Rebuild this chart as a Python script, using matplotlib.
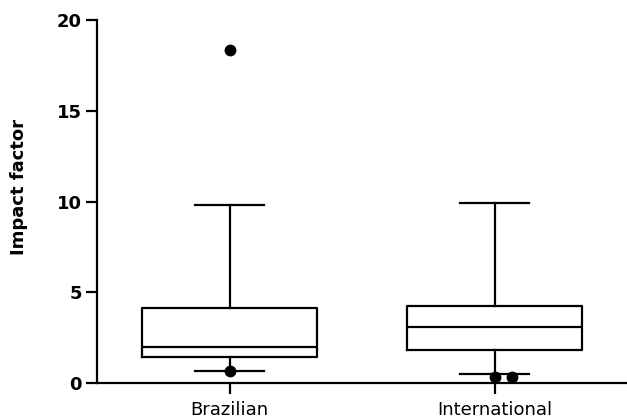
import matplotlib
matplotlib.use("Agg")
import matplotlib.pyplot as plt

# 数据
groups = ["Brazilian", "International"]
medians = [1.98, 3.08]
q1s = [1.43, 1.82]
q3s = [4.13, 4.24]
whis_low = [0.66, 0.51]
whis_high = [9.8, 9.9]
fliers = [[18.35, 0.66], [0.35, 0.35]]
yticks = [0, 5, 10, 15, 20]

plt.rcParams["font.family"] = ["DejaVu Sans"]

fig = plt.figure(figsize=(6.27, 4.2), dpi=100)
ax = fig.add_axes([0.155, 0.088, 0.845, 0.864])

stats = []
for i, name in enumerate(groups):
    stats.append(
        {
            "label": name,
            "med": medians[i],
            "q1": q1s[i],
            "q3": q3s[i],
            "whislo": whis_low[i],
            "whishi": whis_high[i],
            "fliers": [],
        }
    )

lw = 1.6
positions = list(range(1, len(groups) + 1))
ax.bxp(
    stats,
    positions=positions,
    widths=0.66,
    showfliers=False,
    boxprops=dict(color="black", linewidth=lw),
    medianprops=dict(color="black", linewidth=lw),
    whiskerprops=dict(color="black", linewidth=lw),
    capprops=dict(color="black", linewidth=lw),
    capwidths=0.26,
)

# 离群点：相同值横向错开
for pos, vals in zip(positions, fliers):
    seen = {}
    for v in vals:
        k = seen.get(v, 0)
        seen[v] = k + 1
        ax.plot(pos + k * 0.065, v, "o", color="black", markersize=7.5, zorder=5,
                clip_on=False)

ax.set_xlim(0.5, 2.5)
ax.set_ylim(0, 20)
ax.set_yticks(yticks)
ax.set_xticks(positions)
ax.set_xticklabels(groups, fontsize=13)
for lab in ax.get_yticklabels():
    lab.set_fontsize(13)
    lab.set_fontweight("bold")
ax.set_ylabel("Impact factor", fontsize=13, fontweight="bold")
ax.yaxis.set_label_coords(-0.13, 0.54)

ax.spines["top"].set_visible(False)
ax.spines["right"].set_visible(False)
ax.spines["left"].set_linewidth(lw)
ax.spines["bottom"].set_linewidth(lw)
ax.tick_params(axis="both", width=lw, length=8, color="black")
ax.tick_params(axis="x", pad=5)
ax.tick_params(axis="y", pad=3)

fig.savefig("out.png", dpi=100)
